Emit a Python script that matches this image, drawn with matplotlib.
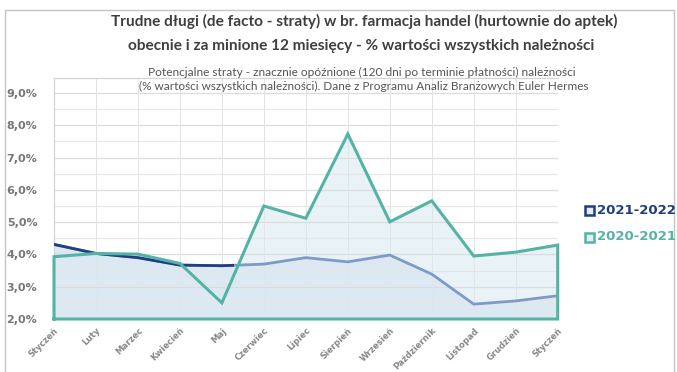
import matplotlib
matplotlib.use("Agg")
import matplotlib.pyplot as plt
from matplotlib.patches import Rectangle
from matplotlib.ticker import MultipleLocator, FuncFormatter

months = ["Styczeń", "Luty", "Marzec", "Kwiecień", "Maj", "Czerwiec", "Lipiec",
          "Sierpień", "Wrzesień", "Październik", "Listopad", "Grudzień", "Styczeń"]
s2021_2022 = [4.31, 4.03, 3.90, 3.67, 3.65, 3.70, 3.90, 3.77, 3.98, 3.39, 2.46, 2.56, 2.72]
s2020_2021 = [3.93, 4.03, 4.01, 3.72, 2.50, 5.50, 5.12, 7.73, 5.01, 5.66, 3.95, 4.07, 4.29]
y_ticks = [2.0, 3.0, 4.0, 5.0, 6.0, 7.0, 8.0, 9.0]

title_lines = ["Trudne długi (de facto - straty) w br. farmacja handel (hurtownie do aptek)",
               "obecnie i za minione 12 miesięcy - % wartości wszystkich należności"]
subtitle_lines = ["Potencjalne straty - znacznie opóźnione (120 dni po terminie płatności) należności",
                  "(% wartości wszystkich należności). Dane z Programu Analiz Branżowych Euler Hermes"]

TEAL = "#55b3a6"
DARK_BLUE = "#1f3f80"
LIGHT_BLUE = "#7d9bc8"
TITLE_FONT = ["Lato", "DejaVu Sans"]

W, H = 677, 372
fig = plt.figure(figsize=(W / 100, H / 100), dpi=100)
fig.patch.set_facecolor("white")
renderer = fig.canvas.get_renderer()


def px(xp, yp):
    return xp / W, 1 - yp / H


def fitted_text(xc, yc, s, width_px, size, **kw):
    """Centred text whose rendered width is scaled to width_px."""
    t = fig.text(*px(xc, yc), s, ha="center", va="center", fontsize=size, **kw)
    w = t.get_window_extent(renderer).width
    t.set_fontsize(size * width_px / w)
    return t


# outer chart frame
fig.add_artist(Rectangle((5 / W, -0.01), 669 / W, 1 - 10 / H + 0.01,
                         transform=fig.transFigure, fill=False,
                         edgecolor="#c4c4c4", linewidth=1.0))

# plot area: x from first to last month, y from 2.0 up to the frame top
left, right, top, bottom = 54.0, 557.7, 78.0, 319.0
ax = fig.add_axes([left / W, 1 - bottom / H, (right - left) / W, (bottom - top) / H])
x = list(range(len(months)))
base = y_ticks[0]
px_per_pct = (bottom - 93.0) / (y_ticks[-1] - y_ticks[0])

ax.set_xlim(0, len(months) - 1)
ax.set_ylim(base, y_ticks[-1] + (93.0 - top) / px_per_pct)

# area fills
ax.fill_between(x, base, s2020_2021, color="#e8f2f7", zorder=1, linewidth=0)
ax.fill_between(x, base, s2021_2022, color="#dde9f2", zorder=1.5, linewidth=0)

# grid
ax.yaxis.set_major_locator(MultipleLocator(1.0))
ax.yaxis.set_minor_locator(MultipleLocator(0.5))
ax.grid(which="major", axis="y", color="#dcdcdc", linewidth=0.9, zorder=0.5)
ax.grid(which="minor", axis="y", color="#e6e6e6", linewidth=0.8, zorder=0.5)
ax.set_xticks(x)
for xi in x[1:-1]:
    ax.axvline(xi, color="#dfe6ea", linewidth=0.7, zorder=1.6)

# teal area outline (top edge, sides and base)
outline_x = [x[0]] + x + [x[-1], x[0]]
outline_y = [base] + s2020_2021 + [base, base]
ax.plot(outline_x, outline_y, color=TEAL, linewidth=2.2, zorder=3,
        solid_joinstyle="miter", clip_on=False)

# 2021-2022 line: light overall, darker in the first months
ax.plot(x, s2021_2022, color=LIGHT_BLUE, linewidth=2.0, zorder=2.5)
dark, = ax.plot(x, s2021_2022, color=DARK_BLUE, linewidth=2.0, zorder=2.6)
dark.set_clip_path(Rectangle((0, 0), 4.3, 10, transform=ax.transData))

for name, sp in ax.spines.items():
    if name in ("left", "top"):
        sp.set_color("#d4d4d4")
        sp.set_linewidth(0.9)
    else:
        sp.set_visible(False)

ax.yaxis.set_major_formatter(FuncFormatter(lambda v, p: f"{v:.1f}%".replace(".", ",")))
ax.set_yticks(y_ticks)
ax.tick_params(axis="y", which="both", length=0, pad=12, labelsize=8, labelcolor="#777777")
ax.tick_params(axis="x", length=0, pad=5, labelsize=6.1, labelcolor="#888888")
for lbl in ax.get_yticklabels():
    lbl.set_fontweight("bold")
ax.set_xticklabels(months, rotation=45, ha="right", rotation_mode="anchor", fontweight="bold")

# titles
fitted_text(364, 21, title_lines[0], 505, 12, color="#3f3f3f", family=TITLE_FONT,
            fontweight="bold")
fitted_text(361, 46, title_lines[1], 462, 12, color="#3f3f3f", family=TITLE_FONT,
            fontweight="bold")
fitted_text(362, 72, subtitle_lines[0], 429, 7, color="#555555", family=TITLE_FONT)
fitted_text(364, 86, subtitle_lines[1], 445, 7, color="#555555", family=TITLE_FONT)

# legend
for ypix, label, col in [(210, "2021-2022", DARK_BLUE), (237, "2020-2021", TEAL)]:
    fig.add_artist(Rectangle(px(585, ypix + 4.5), 9 / W, 9 / H,
                             transform=fig.transFigure, facecolor="#e3edf3",
                             edgecolor=col, linewidth=1.8))
    fig.text(*px(597, ypix), label, ha="left", va="center",
             fontsize=9.5, fontweight="bold", color=col)

fig.savefig("out.png", dpi=100, facecolor="white")
